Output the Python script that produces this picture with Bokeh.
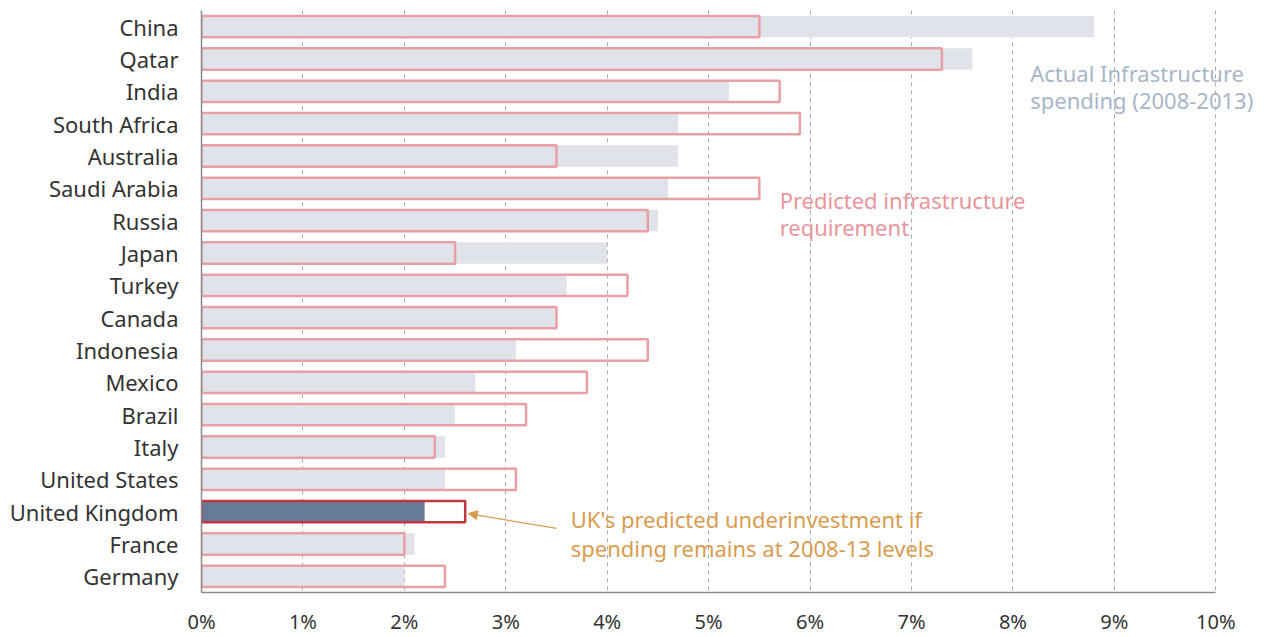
from bokeh.plotting import figure
from bokeh.models import Range1d, FixedTicker, Arrow, NormalHead, ColumnDataSource
from bokeh.core.properties import value
from bokeh.embed import file_html
from bokeh.resources import INLINE

countries = ["China", "Qatar", "India", "South Africa", "Australia", "Saudi Arabia",
             "Russia", "Japan", "Turkey", "Canada", "Indonesia", "Mexico", "Brazil",
             "Italy", "United States", "United Kingdom", "France", "Germany"]
actual = [8.8, 7.6, 5.2, 4.7, 4.7, 4.6, 4.5, 4.0, 3.6, 3.5, 3.1, 2.7, 2.5, 2.4, 2.4, 2.2, 2.1, 2.0]
predicted = [5.5, 7.3, 5.7, 5.9, 3.5, 5.5, 4.4, 2.5, 4.2, 3.5, 4.4, 3.8, 3.2, 2.3, 3.1, 2.6, 2.0, 2.4]
x_ticks = [0, 1, 2, 3, 4, 5, 6, 7, 8, 9, 10]
x_tick_labels = ["0%", "1%", "2%", "3%", "4%", "5%", "6%", "7%", "8%", "9%", "10%"]
highlight = "United Kingdom"

FONT = "Noto Sans"
idx = list(range(len(countries)))
act_colors = ["#687A99" if c == highlight else "#E0E3EA" for c in countries]
pred_colors = ["#C23640" if c == highlight else "#E9A0A5" for c in countries]

src = ColumnDataSource(dict(y=idx, actual=actual, predicted=predicted,
                            ac=act_colors, pc=pred_colors))

p = figure(width=1266, height=637, output_backend="svg", toolbar_location=None,
           x_range=Range1d(0, 10.50), y_range=Range1d(len(countries) - 0.5, -0.5),
           min_border_left=201, min_border_right=0, min_border_top=10, min_border_bottom=43)
p.outline_line_color = None
p.background_fill_color = "white"

p.hbar(y="y", left=0, right="actual", height=0.66, fill_color="ac", line_color=None, source=src)
p.hbar(y="y", left=0, right="predicted", height=0.66, fill_color=None, line_color="pc",
       line_width=2.5, source=src)

# axes
p.xaxis.ticker = FixedTicker(ticks=x_ticks)
p.xaxis.major_label_overrides = {t: l for t, l in zip(x_ticks, x_tick_labels)}
p.xaxis.bounds = (0, 10)
p.xaxis.axis_line_color = "#8A8A8A"
p.xaxis.axis_line_width = 1.5
p.xaxis.major_tick_line_color = None
p.xaxis.minor_tick_line_color = None
p.xaxis.major_tick_in = 0
p.xaxis.major_tick_out = 0
p.xaxis.major_label_standoff = 15
p.xaxis.major_label_text_font = FONT
p.xaxis.major_label_text_font_size = "20px"
p.xaxis.major_label_text_color = "#333333"

p.yaxis.ticker = FixedTicker(ticks=idx)
p.yaxis.major_label_overrides = {i: c for i, c in zip(idx, countries)}
p.yaxis.axis_line_color = "#8A8A8A"
p.yaxis.axis_line_width = 1.5
p.yaxis.major_tick_line_color = None
p.yaxis.minor_tick_line_color = None
p.yaxis.major_tick_in = 0
p.yaxis.major_tick_out = 0
p.yaxis.major_label_standoff = 23
p.yaxis.major_label_text_font = FONT
p.yaxis.major_label_text_font_size = "22px"
p.yaxis.major_label_text_color = "#333333"

p.xgrid.ticker = FixedTicker(ticks=x_ticks[1:])
p.xgrid.grid_line_color = "#AAAAAA"
p.xgrid.grid_line_dash = "4 4"
p.xgrid.grid_line_width = 1
p.ygrid.grid_line_color = None

# labels
p.text(x=[8.17, 8.17], y=[1.42, 2.28],
       text=["Actual Infrastructure", "spending (2008-2013)"],
       text_font=value(FONT), text_font_size="22px", text_color="#A9B5C9",
       text_baseline="middle", text_align="left")
p.text(x=[5.70, 5.70], y=[5.36, 6.19],
       text=["Predicted infrastructure", "requirement"],
       text_font=value(FONT), text_font_size="22px", text_color="#E9959B",
       text_baseline="middle", text_align="left")
p.text(x=[3.64, 3.64], y=[15.24, 16.11],
       text=["UK's predicted underinvestment if", "spending remains at 2008-13 levels"],
       text_font=value(FONT), text_font_size="22px", text_color="#D99C4F",
       text_baseline="middle", text_align="left")

uk = countries.index(highlight)
p.add_layout(Arrow(end=NormalHead(size=9, fill_color="#D99C4F", line_color="#D99C4F"),
                   x_start=3.50, y_start=uk + 0.52, x_end=predicted[uk] + 0.03, y_end=uk + 0.06,
                   line_color="#D99C4F", line_width=1.3))

open("out.html", "w").write(file_html(p, INLINE))
